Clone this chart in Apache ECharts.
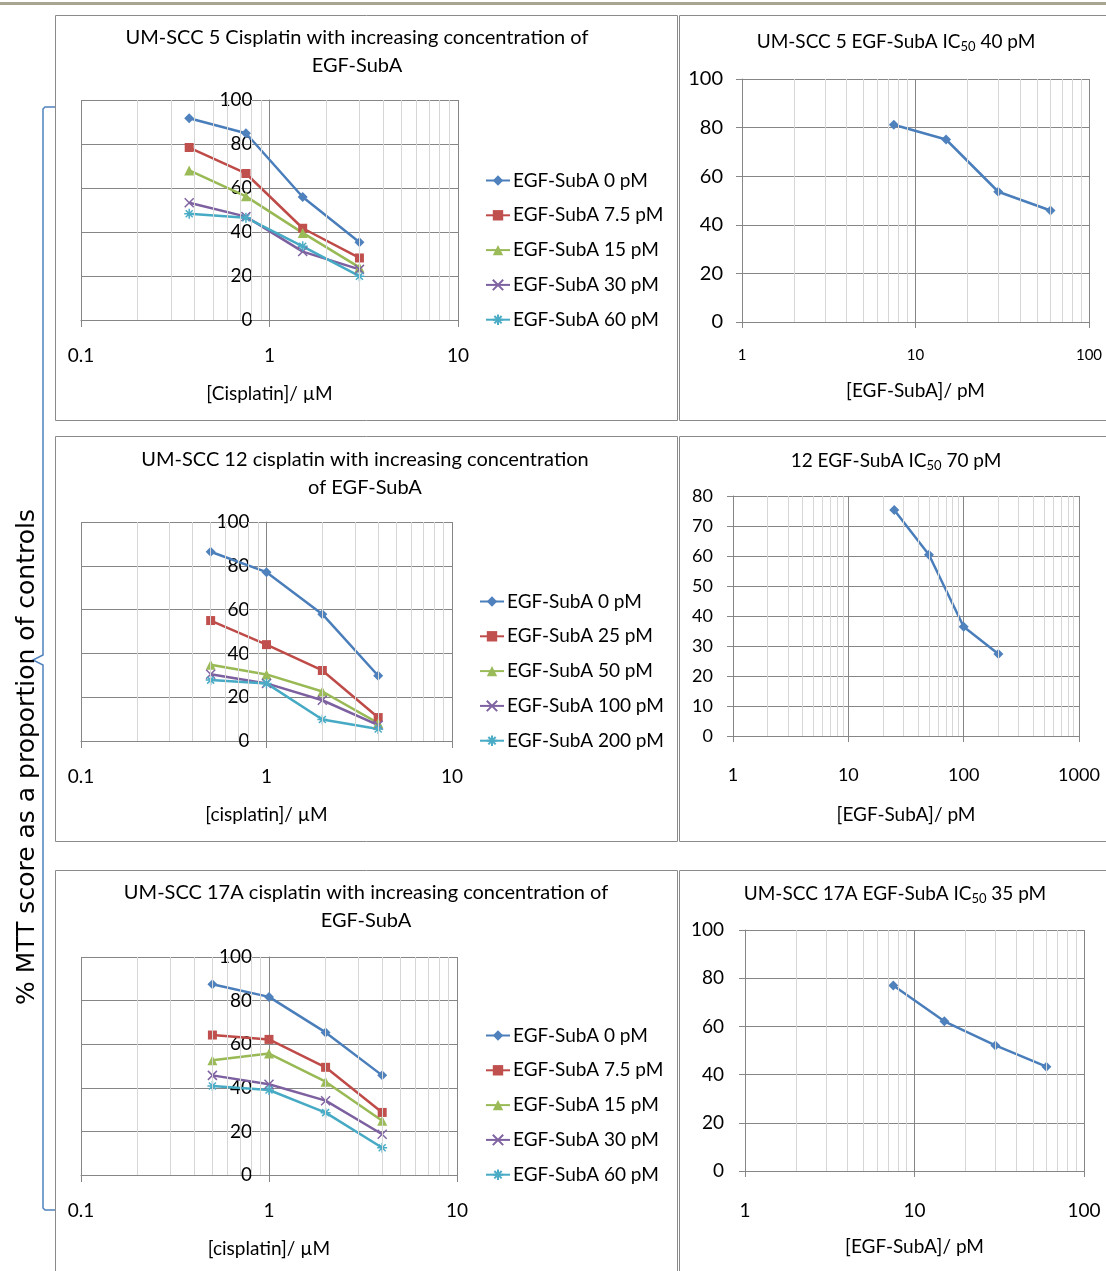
<!DOCTYPE html>
<html>
<head>
<meta charset="utf-8">
<script src="https://cdn.jsdelivr.net/npm/echarts@6/dist/echarts.min.js"></script>
<style>
  html, body { margin: 0; padding: 0; background: #fff; }
  #chart { width: 1106px; height: 1271px; }
</style>
</head>
<body>
<div id="chart"></div>
<script>
// ---- data ----
// UM-SCC 5, cisplatin series
const scc5Cis = [0.375, 0.75, 1.5, 3];
const scc5Names = ['EGF-SubA 0 pM', 'EGF-SubA 7.5 pM', 'EGF-SubA 15 pM', 'EGF-SubA 30 pM', 'EGF-SubA 60 pM'];
const scc5Egf0 = [91.7, 84.9, 55.9, 35.3];
const scc5Egf7 = [78.4, 66.6, 41.7, 28.2];
const scc5Egf15 = [68.0, 56.2, 39.6, 23.9];
const scc5Egf30 = [53.3, 47.0, 31.1, 23.0];
const scc5Egf60 = [48.3, 46.5, 33.5, 19.9];
// UM-SCC 5, EGF-SubA alone
const scc5Dose = [7.5, 15, 30, 60];
const scc5Mtt = [81.2, 75.1, 53.6, 45.9];

// UM-SCC 12
const scc12Cis = [0.5, 1, 2, 4];
const scc12Names = ['EGF-SubA 0 pM', 'EGF-SubA 25 pM', 'EGF-SubA 50 pM', 'EGF-SubA 100 pM', 'EGF-SubA 200 pM'];
const scc12Egf0 = [86.4, 77.1, 57.9, 29.8];
const scc12Egf25 = [55.0, 44.0, 32.2, 10.7];
const scc12Egf50 = [34.8, 30.4, 22.6, 8.2];
const scc12Egf100 = [30.5, 26.3, 18.6, 7.2];
const scc12Egf200 = [27.8, 26.3, 9.8, 5.5];
const scc12Dose = [25, 50, 100, 200];
const scc12Mtt = [75.3, 60.4, 36.4, 27.3];

// UM-SCC 17A
const scc17Cis = [0.5, 1, 2, 4];
const scc17Names = ['EGF-SubA 0 pM', 'EGF-SubA 7.5 pM', 'EGF-SubA 15 pM', 'EGF-SubA 30 pM', 'EGF-SubA 60 pM'];
const scc17Egf0 = [87.5, 81.7, 65.4, 45.7];
const scc17Egf7 = [64.2, 62.2, 49.4, 28.7];
const scc17Egf15 = [52.6, 55.7, 42.8, 24.9];
const scc17Egf30 = [45.7, 41.6, 34.1, 18.7];
const scc17Egf60 = [40.8, 39.0, 28.6, 12.5];
const scc17Dose = [7.5, 15, 30, 60];
const scc17Mtt = [77.0, 62.1, 52.1, 43.3];

// minor log gridline values
const minorCis = [0.2, 0.3, 0.4, 0.5, 0.6, 0.7, 0.8, 0.9, 2, 3, 4, 5, 6, 7, 8, 9];
const minorEgf100 = [2, 3, 4, 5, 6, 7, 8, 9, 20, 30, 40, 50, 60, 70, 80, 90];
const minorEgf1000 = minorEgf100.concat([200, 300, 400, 500, 600, 700, 800, 900]);

const FONT = 'Lato, "Open Sans", sans-serif';
const GRID_DARK = '#868686';
const GRID_LIGHT = '#d6d6d6';

const styles = [
  { line: '#4a7ebb', mark: '#4f81bd', symbol: 'diamond', size: 10 },
  { line: '#be4b48', mark: '#c0504d', symbol: 'rect', size: 9 },
  { line: '#98b954', mark: '#9bbb59', symbol: 'triangle', size: 10 },
  { line: '#7d60a0', mark: '#8064a2', symbol: 'path://M0,0L10,10M10,0L0,10', size: 9 },
  { line: '#46aac5', mark: '#4bacc6', symbol: 'path://M0,5L10,5M5,0L5,10M1.5,1.5L8.5,8.5M8.5,1.5L1.5,8.5', size: 10 }
];

const grids = [
  { left: 81, top: 100, width: 377, height: 220 },
  { left: 742, top: 79, width: 347, height: 243 },
  { left: 81, top: 522, width: 371, height: 219 },
  { left: 733, top: 496, width: 346, height: 240 },
  { left: 81, top: 957, width: 376, height: 218 },
  { left: 745, top: 930, width: 339, height: 241 }
];

function xAxisCis(i, name) {
  return {
    type: 'log', logBase: 10, min: 0.1, max: 10, gridIndex: i,
    name: name, nameLocation: 'middle', nameGap: 64,
    nameTextStyle: { fontSize: 19, color: '#000', fontFamily: FONT },
    axisLine: { onZero: false, lineStyle: { color: GRID_DARK } },
    axisTick: { show: true, length: 7, lineStyle: { color: GRID_DARK } },
    axisLabel: { margin: 26, fontSize: 19, color: '#000', fontFamily: FONT },
    splitLine: { show: true, lineStyle: { color: GRID_DARK } }
  };
}
function yAxisCis(i) {
  return {
    type: 'value', min: 0, max: 100, interval: 20, gridIndex: i,
    offset: -grids[i].width / 2,
    axisLine: { show: true, onZero: false, lineStyle: { color: GRID_DARK } },
    axisTick: { show: true, length: 5, lineStyle: { color: GRID_DARK } },
    axisLabel: { margin: 17, fontSize: 19, color: '#000', fontFamily: FONT },
    splitLine: { show: true, lineStyle: { color: GRID_DARK } }
  };
}
function xAxisEgf(i, max, fs, gap, margin) {
  return {
    type: 'log', logBase: 10, min: 1, max: max, gridIndex: i,
    name: '[EGF-SubA]/ pM', nameLocation: 'middle', nameGap: gap,
    nameTextStyle: { fontSize: 19, color: '#000', fontFamily: FONT },
    axisLine: { onZero: false, lineStyle: { color: GRID_DARK } },
    axisTick: { show: true, length: 6, lineStyle: { color: GRID_DARK } },
    axisLabel: { margin: margin, fontSize: fs, color: '#000', fontFamily: FONT, formatter: v => String(v) },
    splitLine: { show: true, lineStyle: { color: GRID_DARK } }
  };
}
function yAxisEgf(i, max, step, fs, margin) {
  return {
    type: 'value', min: 0, max: max, interval: step, gridIndex: i,
    axisLine: { show: true, onZero: false, lineStyle: { color: GRID_DARK } },
    axisTick: { show: true, length: 6, lineStyle: { color: GRID_DARK } },
    axisLabel: { margin: margin, fontSize: fs, color: '#000', fontFamily: FONT },
    splitLine: { show: true, lineStyle: { color: GRID_DARK } }
  };
}

function pairs(xs, ys) {
  return xs.map((x, j) => [x, ys[j]]);
}
function lineSeries(i, name, xs, ys, k) {
  const s = styles[k];
  return {
    type: 'line', name: name, xAxisIndex: i, yAxisIndex: i, z: 3,
    data: pairs(xs, ys),
    symbol: s.symbol, symbolSize: s.size,
    lineStyle: { color: s.line, width: 2.5 },
    itemStyle: { color: s.mark, borderColor: s.mark, borderWidth: k >= 3 ? 1.5 : 0 }
  };
}
function minorLines(i, values) {
  return {
    type: 'line', xAxisIndex: i, yAxisIndex: i, z: 1, data: [], silent: true,
    markLine: {
      silent: true, symbol: ['none', 'none'], label: { show: false },
      lineStyle: { color: GRID_LIGHT, width: 1, type: 'solid' },
      emphasis: { disabled: true },
      data: values.map(v => ({ xAxis: v }))
    }
  };
}
function legendAt(left, top, names) {
  return {
    orient: 'vertical', left: left, top: top, itemGap: 15.8, padding: 0,
    itemWidth: 24, itemHeight: 13, selectedMode: false,
    textStyle: { fontSize: 19, color: '#000', fontFamily: FONT, padding: [0, 0, 0, -2] },
    data: names
  };
}

const series = [
  minorLines(0, minorCis), minorLines(1, minorEgf100), minorLines(2, minorCis),
  minorLines(3, minorEgf1000), minorLines(4, minorCis), minorLines(5, minorEgf100)
];
[scc5Egf0, scc5Egf7, scc5Egf15, scc5Egf30, scc5Egf60].forEach((ys, k) =>
  series.push(lineSeries(0, scc5Names[k], scc5Cis, ys, k)));
series.push(lineSeries(1, 'UM-SCC 5', scc5Dose, scc5Mtt, 0));
[scc12Egf0, scc12Egf25, scc12Egf50, scc12Egf100, scc12Egf200].forEach((ys, k) =>
  series.push(lineSeries(2, scc12Names[k], scc12Cis, ys, k)));
series.push(lineSeries(3, 'UM-SCC 12', scc12Dose, scc12Mtt, 0));
[scc17Egf0, scc17Egf7, scc17Egf15, scc17Egf30, scc17Egf60].forEach((ys, k) =>
  series.push(lineSeries(4, scc17Names[k], scc17Cis, ys, k)));
series.push(lineSeries(5, 'UM-SCC 17A', scc17Dose, scc17Mtt, 0));

function box(x, y, w, h) {
  return { type: 'rect', shape: { x: x, y: y, width: w, height: h }, style: { fill: 'none', stroke: '#8a8a8a', lineWidth: 1 }, silent: true };
}
function title(x, y, text, size) {
  return {
    type: 'text', x: x, y: y, silent: true,
    style: {
      text: text, fill: '#000', font: size + 'px ' + FONT, textAlign: 'center', textVerticalAlign: 'middle',
      lineHeight: 28,
      rich: { s: { fontSize: 13, fontFamily: FONT, padding: [9, 0, 0, 0] } }
    }
  };
}

const option = {
  animation: false,
  grid: grids,
  xAxis: [
    xAxisCis(0, '[Cisplatin]/ µM'), xAxisEgf(1, 100, 15, 59, 26),
    xAxisCis(2, '[cisplatin]/ µM'), xAxisEgf(3, 1000, 18, 69, 30),
    xAxisCis(4, '[cisplatin]/ µM'), xAxisEgf(5, 100, 19, 66, 30)
  ],
  yAxis: [
    yAxisCis(0), yAxisEgf(1, 100, 20, 20, 19),
    yAxisCis(2), yAxisEgf(3, 80, 10, 18, 20),
    yAxisCis(4), yAxisEgf(5, 100, 20, 19, 21)
  ],
  legend: [
    legendAt(485, 171, scc5Names),
    legendAt(479, 592, scc12Names),
    legendAt(485, 1026, scc17Names)
  ],
  series: series,
  graphic: [
    { type: 'rect', shape: { x: 0, y: 2, width: 1106, height: 3 }, style: { fill: '#a9a593' }, silent: true },
    box(55.5, 15.5, 622, 405), box(679.5, 15.5, 440, 405),
    box(55.5, 436.5, 622, 405), box(679.5, 436.5, 440, 405),
    box(55.5, 870.5, 622, 460), box(679.5, 870.5, 440, 460),
    title(357, 52, 'UM-SCC 5 Cisplatin with increasing concentration of\nEGF-SubA', 20),
    title(896, 42, 'UM-SCC 5 EGF-SubA IC{s|50} 40 pM', 19),
    title(365, 474, 'UM-SCC 12 cisplatin with increasing concentration\nof EGF-SubA', 20),
    title(896, 461, '12 EGF-SubA IC{s|50} 70 pM', 19),
    title(366, 907, 'UM-SCC 17A cisplatin with increasing concentration of\nEGF-SubA', 20),
    title(895, 894, 'UM-SCC 17A EGF-SubA IC{s|50} 35 pM', 19),
    {
      type: 'polyline', silent: true,
      shape: { points: [[55, 107], [45, 107], [43, 109], [43, 655], [33, 660], [43, 665], [43, 1208], [45, 1210], [55, 1210]] },
      style: { fill: 'none', stroke: '#4f81bd', lineWidth: 1.5 }
    },
    {
      type: 'text', x: 27, y: 757, rotation: Math.PI / 2, silent: true,
      style: { text: '% MTT score as a proportion of controls', fill: '#000', font: '25px "DejaVu Sans", sans-serif', textAlign: 'center', textVerticalAlign: 'middle' }
    }
  ]
};

const chart = echarts.init(document.getElementById('chart'), null, { renderer: 'canvas' });
chart.setOption(option);
</script>
</body>
</html>
